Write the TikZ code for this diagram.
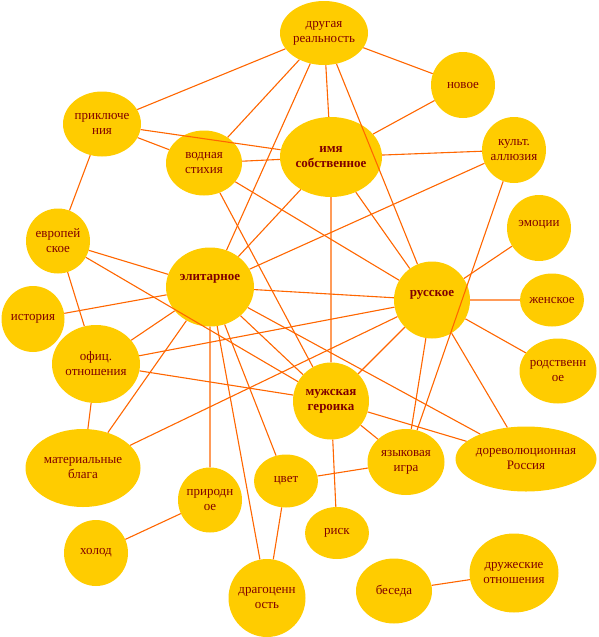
\documentclass[tikz,border=0pt]{standalone}
\usepackage{fontspec}
\setmainfont{Liberation Serif}
\usetikzlibrary{shapes.geometric}
\definecolor{gold}{HTML}{FFCC00}
\definecolor{rust}{HTML}{FF6600}
\definecolor{wine}{HTML}{800000}

\begin{document}
\begin{tikzpicture}[x=1pt,y=-1pt,
  bub/.style={ellipse,fill=gold,inner sep=0pt},
  txt/.style={text=wine,align=center,font=\fontsize{13}{15}\selectfont},
  btxt/.style={txt,font=\fontsize{13}{15}\selectfont\bfseries},
  tie/.style={draw=rust,line width=1.1pt}]
 \useasboundingbox (0,0) rectangle (598,637);
 \node[bub,minimum width=88pt,minimum height=64pt,label={[txt]center:другая\\реальность}] (drug) at (324,33) {};
 \node[bub,minimum width=64pt,minimum height=66pt,label={[txt]center:новое}] (novoe) at (463,85) {};
 \node[bub,minimum width=102pt,minimum height=80pt,label={[btxt]center:имя\\собственное}] (imya) at (331,157) {};
 \node[bub,minimum width=64pt,minimum height=66pt,label={[txt]center:культ.\\аллюзия}] (kult) at (514,150) {};
 \node[bub,minimum width=78pt,minimum height=65pt,label={[txt]center:приключе\\ния}] (prikl) at (102,124) {};
 \node[bub,minimum width=76pt,minimum height=65pt,label={[txt]center:водная\\стихия}] (vodn) at (204,163) {};
 \node[bub,minimum width=64pt,minimum height=65pt,label={[txt]center:европей\\ское}] (evrop) at (58,241) {};
 \node[bub,minimum width=88pt,minimum height=79pt,label={[btxt,yshift=8pt]center:элитарное}] (elit) at (210,287) {};
 \node[bub,minimum width=63pt,minimum height=66pt,label={[txt]center:история}] (istor) at (33,319) {};
 \node[bub,minimum width=88pt,minimum height=78pt,label={[txt]center:офиц.\\отношения}] (ofic) at (96,364) {};
 \node[bub,minimum width=76pt,minimum height=77pt,label={[btxt,yshift=5pt]center:русское}] (russ) at (432,300) {};
 \node[bub,minimum width=64pt,minimum height=66pt,label={[txt,yshift=3pt]center:эмоции}] (emoc) at (539,228) {};
 \node[bub,minimum width=64pt,minimum height=53pt,label={[txt]center:женское}] (zhensk) at (552,300) {};
 \node[bub,minimum width=77pt,minimum height=65pt,label={[txt]center:родственн\\ое}] (rodst) at (558,371) {};
 \node[bub,minimum width=76pt,minimum height=77pt,label={[btxt]center:мужская\\героика}] (muzh) at (331,401) {};
 \node[bub,minimum width=77pt,minimum height=66pt,label={[txt]center:языковая\\игра}] (yazyk) at (406,462) {};
 \node[bub,minimum width=141pt,minimum height=65pt,label={[txt]center:дореволюционная\\Россия}] (dorev) at (526,459) {};
 \node[bub,minimum width=115pt,minimum height=78pt,label={[txt]center:материальные\\блага}] (mater) at (83,468) {};
 \node[bub,minimum width=64pt,minimum height=65pt,label={[txt]center:природн\\ое}] (prirod) at (210,500) {};
 \node[bub,minimum width=64pt,minimum height=53pt,label={[txt]center:цвет}] (cvet) at (286,481) {};
 \node[bub,minimum width=64pt,minimum height=66pt,label={[txt]center:холод}] (holod) at (96,553) {};
 \node[bub,minimum width=77pt,minimum height=78pt,label={[txt]center:драгоценн\\ость}] (dragoc) at (267,598) {};
 \node[bub,minimum width=64pt,minimum height=52pt,label={[txt]center:риск}] (risk) at (337,533) {};
 \node[bub,minimum width=76pt,minimum height=65pt,label={[txt]center:беседа}] (beseda) at (394,591) {};
 \node[bub,minimum width=89pt,minimum height=79pt,label={[txt]center:дружеские\\отношения}] (druzh) at (514,573) {};

 \draw[tie] (drug)--(prikl) (drug)--(novoe) (drug)--(imya) (drug)--(vodn)
            (drug)--(elit) (drug)--(russ);
 \draw[tie] (prikl)--(imya) (prikl)--(vodn) (prikl)--(evrop);
 \draw[tie] (vodn)--(imya) (vodn)--(russ) (vodn)--(muzh);
 \draw[tie] (imya)--(novoe) (imya)--(kult) (imya)--(muzh) (imya)--(russ)
            (imya)--(elit);
 \draw[tie] (kult)--(elit) (kult)--(yazyk);
 \draw[tie] (russ)--(emoc) (russ)--(zhensk) (russ)--(rodst) (russ)--(dorev)
            (russ)--(yazyk) (russ)--(muzh) (russ)--(elit) (russ)--(ofic)
            (russ)--(mater);
 \draw[tie] (mater)--(ofic) (mater)--(elit);
 \draw[tie] (elit)--(evrop) (elit)--(istor) (elit)--(ofic) (elit)--(prirod)
            (elit)--(dragoc) (elit)--(cvet) (elit)--(muzh) (elit)--(dorev);
 \draw[tie] (evrop)--(muzh) (evrop)--(ofic) (ofic)--(muzh);
 \draw[tie] (muzh)--(risk) (muzh)--(yazyk) (muzh)--(dorev);
 \draw[tie] (yazyk)--(cvet) (prirod)--(holod) (cvet)--(dragoc)
            (beseda)--(druzh);
\end{tikzpicture}
\end{document}
